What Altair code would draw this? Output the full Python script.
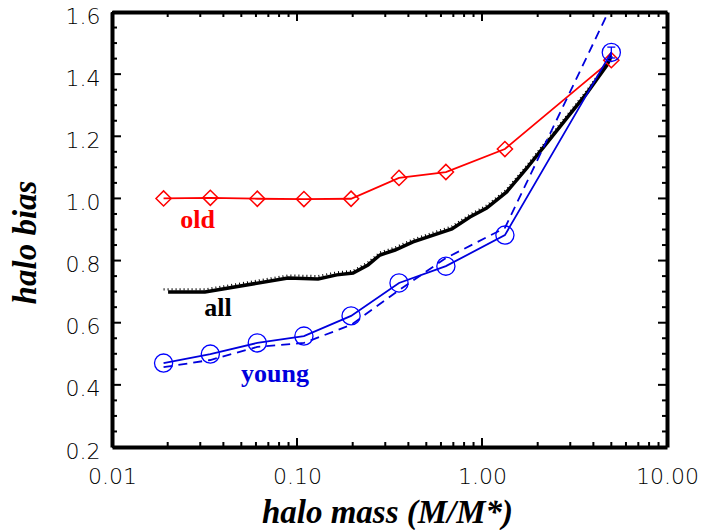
import altair as alt
import pandas as pd

# ---------------- data ----------------
mass_pts = [0.019, 0.034, 0.061, 0.109, 0.196, 0.356, 0.638, 1.33, 5.0]
old_bias = [1.000, 1.002, 0.999, 0.998, 0.999, 1.066, 1.085, 1.159, 1.445]
young_bias = [0.470, 0.499, 0.535, 0.557, 0.622, 0.728, 0.782, 0.882, 1.470]
young_dash_bias = [0.457, 0.480, 0.522, 0.535, 0.593, 0.705, 0.808, 0.905, 1.620]

# error bar on the highest-mass young point
err_mass = [5.0]
err_lo = [1.452]
err_hi = [1.487]

all_mass = [0.0201, 0.0318, 0.0894, 0.130, 0.164, 0.201, 0.242, 0.281, 0.339,
            0.424, 0.688, 0.861, 1.06, 1.36, 1.75, 2.24, 2.88, 3.69, 4.74, 5.0]
all_bias = [0.699, 0.699, 0.744, 0.741, 0.754, 0.760, 0.786, 0.818, 0.834,
            0.860, 0.902, 0.940, 0.969, 1.021, 1.098, 1.178, 1.259, 1.339, 1.429, 1.458]
all_dot_mass = [0.019, 0.0318, 0.0894, 0.130, 0.164, 0.201, 0.242, 0.281, 0.339,
                0.424, 0.688, 0.861, 1.06, 1.36, 1.75, 2.24, 2.88, 3.69, 4.74, 5.0]
all_dot_bias = [0.707, 0.707, 0.752, 0.750, 0.762, 0.767, 0.794, 0.826, 0.842,
                0.868, 0.910, 0.948, 0.977, 1.029, 1.106, 1.186, 1.267, 1.347, 1.437, 1.462]

label_text = ["old", "all", "young"]
label_mass = [0.0290, 0.0374, 0.0760]
label_bias = [0.905, 0.622, 0.410]
label_color = ["#ff0000", "#000000", "#0000dd"]

x_major = [0.01, 0.1, 1.0, 10.0]
x_minor = [0.02, 0.03, 0.04, 0.05, 0.06, 0.07, 0.08, 0.09,
           0.2, 0.3, 0.4, 0.5, 0.6, 0.7, 0.8, 0.9,
           2, 3, 4, 5, 6, 7, 8, 9]
y_major = [0.2, 0.4, 0.6, 0.8, 1.0, 1.2, 1.4, 1.6]
y_minor = [0.25, 0.3, 0.35, 0.45, 0.5, 0.55, 0.65, 0.7, 0.75, 0.85, 0.9, 0.95,
           1.05, 1.1, 1.15, 1.25, 1.3, 1.35, 1.45, 1.5, 1.55]

# ---------------- tables ----------------
old_df = pd.DataFrame({"mass": mass_pts, "bias": old_bias})
young_df = pd.DataFrame({"mass": mass_pts, "bias": young_bias})
young_dash_df = pd.DataFrame({"mass": mass_pts, "bias": young_dash_bias})
all_df = pd.DataFrame({"mass": all_mass, "bias": all_bias})
all_dot_df = pd.DataFrame({"mass": all_dot_mass, "bias": all_dot_bias})
err_df = pd.DataFrame({"mass": err_mass, "lo": err_lo, "hi": err_hi})
label_df = pd.DataFrame({"text": label_text, "mass": label_mass,
                         "bias": label_bias, "color": label_color})

W, H = 555, 435
xs = alt.Scale(type="log", domain=[0.01, 10], nice=False)
ys = alt.Scale(domain=[0.2, 1.6], nice=False, zero=False)

label_font = "DejaVu Sans"
FRAME_W = 4
x_label_axis = alt.Axis(
    orient="bottom", values=x_major, format=".2f", ticks=False,
    domain=True, domainColor="black", domainWidth=FRAME_W,
    grid=False, labelFont=label_font, labelFontSize=22, labelFontWeight=200,
    labelColor="#000000", labelPadding=19, labelFlush=False, labelOverlap=False,
    title="halo mass (M/M*)", titleFont="Liberation Serif", titleFontSize=33,
    titleFontStyle="italic", titleFontWeight="bold", titleColor="black",
    titleBaseline="alphabetic", titleY=75, titleX=275)
y_label_axis = alt.Axis(
    orient="left", values=y_major, format=".1f", ticks=False,
    domain=True, domainColor="black", domainWidth=FRAME_W,
    grid=False, labelFont=label_font, labelFontSize=22, labelFontWeight=200,
    labelColor="#000000", labelPadding=12, labelOffset=4, labelFlush=False,
    labelOverlap=False,
    title="halo bias", titleFont="Liberation Serif", titleFontSize=33,
    titleFontStyle="italic", titleFontWeight="bold", titleColor="black",
    titleAngle=270, titleBaseline="alphabetic", titleAlign="center",
    titleX=-77, titleY=230)


def X(axis=None):
    return alt.X("mass:Q", scale=xs, axis=axis)


def Y(axis=None):
    return alt.Y("bias:Q", scale=ys, axis=axis)


all_dot = alt.Chart(all_dot_df).mark_line(
    color="black", strokeWidth=2.2, strokeDash=[1, 3]).encode(x=X(), y=Y())
all_line = alt.Chart(all_df).mark_line(
    color="black", strokeWidth=3.5).encode(x=X(), y=Y())
old_line = alt.Chart(old_df).mark_line(
    color="#ff0000", strokeWidth=1.8).encode(x=X(x_label_axis), y=Y(y_label_axis))
old_pts = alt.Chart(old_df).mark_point(
    shape="diamond", size=230, filled=False, color="#ff0000",
    strokeWidth=1.5, opacity=1).encode(x=X(), y=Y())
young_dash = alt.Chart(young_dash_df).mark_line(
    color="#0000dd", strokeWidth=1.8, strokeDash=[9, 6], clip=True).encode(x=X(), y=Y())
young_line = alt.Chart(young_df).mark_line(
    color="#0000dd", strokeWidth=1.8).encode(x=X(), y=Y())
young_pts = alt.Chart(young_df).mark_point(
    shape="circle", size=330, filled=False, color="#0000ff",
    strokeWidth=1.3, opacity=1).encode(x=X(), y=Y())
err_rule = alt.Chart(err_df).mark_rule(color="#0000ff", strokeWidth=1.3).encode(
    x=X(), y=alt.Y("lo:Q", scale=ys, axis=None), y2="hi:Q")
err_cap_hi = alt.Chart(err_df).mark_tick(
    color="#0000ff", orient="horizontal", size=8, thickness=1.3, opacity=1).encode(
    x=X(), y=alt.Y("hi:Q", scale=ys, axis=None))
err_cap_lo = alt.Chart(err_df).mark_tick(
    color="#0000ff", orient="horizontal", size=8, thickness=1.3, opacity=1).encode(
    x=X(), y=alt.Y("lo:Q", scale=ys, axis=None))
labels = alt.Chart(label_df).mark_text(
    font="Liberation Serif", fontSize=26, fontWeight="bold",
    align="center", baseline="alphabetic").encode(
    x=X(), y=Y(), text="text:N", color=alt.Color("color:N", scale=None))


# inward tick marks on all four sides, placed through the scales
def x_ticks(values, edge, inner):
    df = pd.DataFrame({"v": values})
    return alt.Chart(df).mark_rule(color="black", strokeWidth=2).encode(
        x=alt.X("v:Q", scale=xs, axis=None),
        y=alt.value(edge), y2=alt.value(inner))


def y_ticks(values, edge, inner):
    df = pd.DataFrame({"v": values})
    return alt.Chart(df).mark_rule(color="black", strokeWidth=2).encode(
        y=alt.Y("v:Q", scale=ys, axis=None),
        x=alt.value(edge), x2=alt.value(inner))


MAJ, MIN = 9, 5
ticks = [
    x_ticks(x_major, H, H - MAJ), x_ticks(x_minor, H, H - MIN),
    x_ticks(x_major, 0, MAJ), x_ticks(x_minor, 0, MIN),
    y_ticks(y_major, 0, MAJ), y_ticks(y_minor, 0, MIN),
    y_ticks(y_major, W, W - MAJ), y_ticks(y_minor, W, W - MIN),
]


def frame_layer(channel, values, orient):
    df = pd.DataFrame({"v": values})
    ax = alt.Axis(orient=orient, values=values, labels=False, ticks=False,
                  grid=False, domain=True, domainColor="black",
                  domainWidth=FRAME_W, title="")
    base = alt.Chart(df).mark_point(opacity=0, size=1)
    if channel == "x":
        return base.encode(x=alt.X("v:Q", scale=xs, axis=ax))
    return base.encode(y=alt.Y("v:Q", scale=ys, axis=ax))


frames = [frame_layer("x", x_major, "top"), frame_layer("y", y_major, "right")]

chart = alt.layer(
    old_line, all_dot, all_line, old_pts, young_dash, young_line, young_pts,
    err_rule, err_cap_hi, err_cap_lo, labels, *ticks, *frames
).resolve_axis(
    x="independent", y="independent"
).properties(
    width=W, height=H,
    autosize=alt.AutoSizeParams(type="none"),
    padding={"left": 112, "top": 12, "right": 36, "bottom": 83},
).configure_view(
    stroke="black", strokeWidth=FRAME_W
).configure(background="white")

chart.save("out.html", embed_options={"renderer": "svg", "actions": False})
